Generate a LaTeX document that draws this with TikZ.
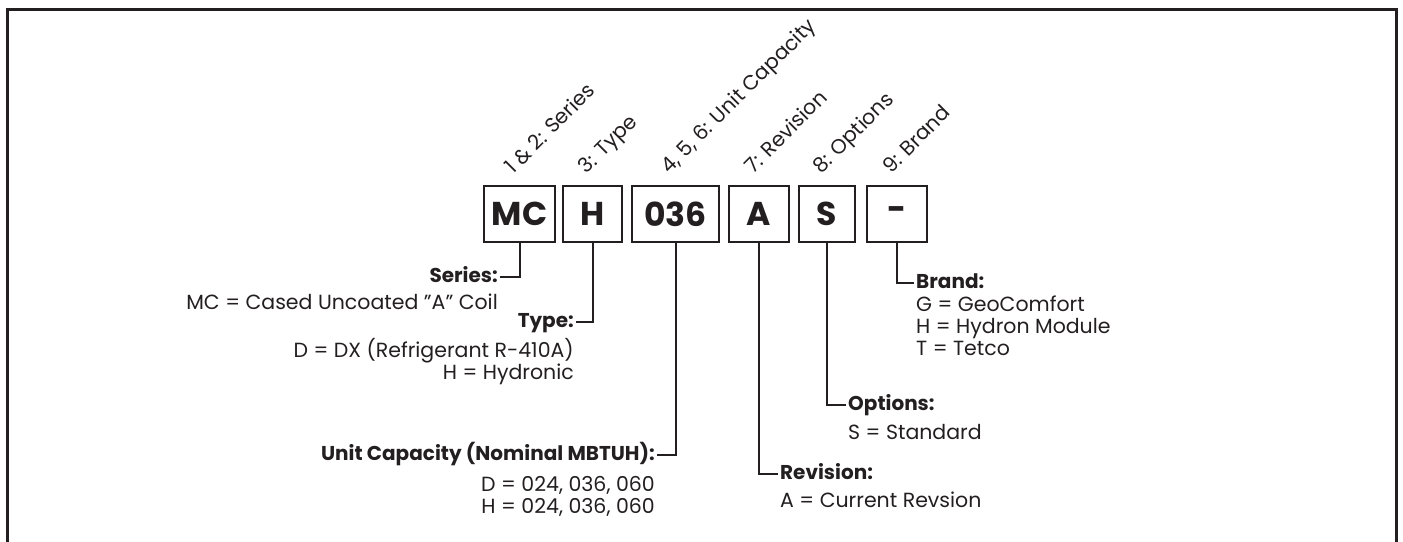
\documentclass[tikz,border=0pt]{standalone}
\usepackage{fontspec}
\setmainfont{Poppins}
\usetikzlibrary{positioning}
\definecolor{ink}{HTML}{231F20}

\tikzset{
  codebox/.style={draw=ink, line width=2.5pt, inner sep=0pt, minimum height=56pt,
    text=ink, font=\fontsize{33}{33}\selectfont\bfseries},
  digit/.style={text=ink, font=\fontsize{20.5}{20.5}\selectfont, rotate=45,
    anchor=base west, inner sep=0pt},
  head/.style={text=ink, font=\fontsize{20}{22}\selectfont\bfseries, inner sep=2pt,
    text height=14pt, text depth=3pt},
  desc/.style={text=ink, font=\fontsize{20.5}{22}\selectfont, inner sep=0pt},
  conn/.style={draw=ink, line width=2pt},
}

\begin{document}
\begin{tikzpicture}[x=1pt, y=-1pt]
    \useasboundingbox (0,0) rectangle (1403,541);

    % Frame (open at the bottom)
    \draw[ink, line width=3pt] (7.5,560) |- (1396.5,9) -- (1396.5,560);

    % Code boxes
    \node[codebox, minimum width=71pt] (mc)  at (519.5,214) {MC};
    \node[codebox, minimum width=59pt] (typ) at (592.5,214) {H};
    \node[codebox, minimum width=87pt] (cap) at (675.5,214) {036};
    \node[codebox, minimum width=60pt] (rev) at (759,214)   {A};
    \node[codebox, minimum width=56pt] (opt) at (827,214)   {S};
    \node[codebox, minimum width=60pt] (brd) at (897,214)   {-};

    % Digit positions
    \node[digit] at ([shift={(-6pt,10pt)}]mc.north)  {1 \& 2: Series};
    \node[digit] at ([shift={(-6pt,10pt)}]typ.north) {3: Type};
    \node[digit] at ([shift={(-6pt,10pt)}]cap.north) {4, 5, 6: Unit Capacity};
    \node[digit] at ([shift={(-6pt,10pt)}]rev.north) {7: Revision};
    \node[digit] at ([shift={(-6pt,10pt)}]opt.north) {8: Options};
    \node[digit] at ([shift={(-6pt,10pt)}]brd.north) {9: Brand};

    % Left hand legends
    \node[head, anchor=east] (series) at (500,277) {Series:};
    \node[desc, anchor=north east, align=right] (seriesd) at ([shift={(-2pt,-6pt)}]series.south east)
        {MC = Cased Uncoated \symbol{34}A\symbol{34} Coil};

    \node[head, anchor=east] (type) at (576,322) {Type:};
    \node[desc, anchor=north east, align=right] (typed) at ([shift={(-2pt,-5pt)}]type.south east)
        {D = DX (Refrigerant R-410A)\\H = Hydronic};

    \node[head, anchor=east] (capy) at (657,455) {Unit Capacity (Nominal MBTUH):};
    \node[desc, anchor=north east, align=right] (capyd) at ([shift={(-2pt,-10pt)}]capy.south east)
        {D = 024, 036, 060\\H = 024, 036, 060};

    % Right hand legends
    \node[head, anchor=west] (brand) at (914,283) {Brand:};
    \node[desc, anchor=north west, align=left] (brandd) at ([shift={(2pt,-2pt)}]brand.south west)
        {G = GeoComfort\\H = Hydron Module\\T = Tetco};

    \node[head, anchor=west] (options) at (846,405) {Options:};
    \node[desc, anchor=north west, align=left] (optionsd) at ([shift={(2pt,-8pt)}]options.south west)
        {S = Standard};

    \node[head, anchor=west] (revision) at (778,474) {Revision:};
    \node[desc, anchor=north west, align=left] (revisiond) at ([shift={(2pt,-7pt)}]revision.south west)
        {A = Current Revsion};

    % Connectors
    \draw[conn] (mc.south)  |- (series.east);
    \draw[conn] (typ.south) |- (type.east);
    \draw[conn] (cap.south) |- (capy.east);
    \draw[conn] (brd.south) |- (brand.west);
    \draw[conn] (opt.south) |- (options.west);
    \draw[conn] (rev.south) |- (revision.west);
\end{tikzpicture}
\end{document}
